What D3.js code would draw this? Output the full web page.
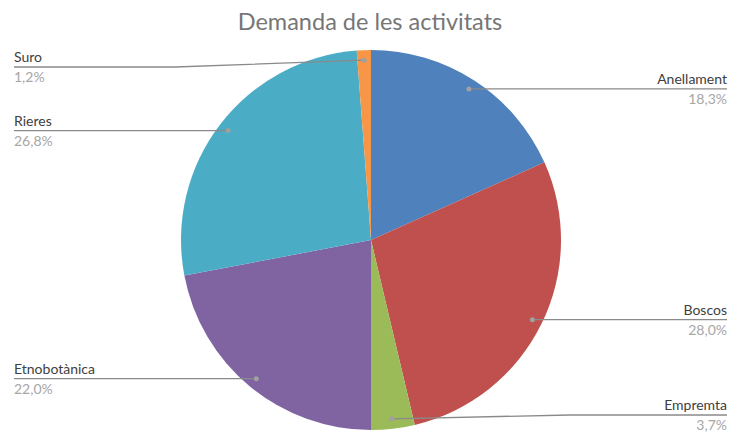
<!DOCTYPE html>
<html>
<head>
<meta charset="utf-8">
<script src="https://cdn.jsdelivr.net/npm/d3@7"></script>
<style>
  body { margin: 0; background: #fff; }
  text { font-family: Lato, "Open Sans", sans-serif; }
</style>
</head>
<body>
<div id="chart"></div>
<script>
const categories = ["Anellament", "Boscos", "Empremta", "Etnobotànica", "Rieres", "Suro"];
const values = [18.3, 28.0, 3.7, 22.0, 26.8, 1.2];
const colors = ["#4F81BD", "#C0504D", "#9BBB59", "#8064A2", "#4BACC6", "#F79646"];

const svgWidth = 730;
const svgHeight = 432;
const cx = 371, cy = 240, radius = 190;

// where the label line sits when it can't just follow the dot
const labelLineY = { "Suro": 67, "Empremta": 415 };
const bendX = { "Suro": 175, "Empremta": 570 };

const svg = d3.select("#chart").append("svg")
  .attr("width", svgWidth)
  .attr("height", svgHeight);

svg.append("text")
  .attr("x", 370)
  .attr("y", 30)
  .attr("text-anchor", "middle")
  .attr("fill", "#767676")
  .attr("font-size", 23.5)
  .text("Demanda de les activitats");

const data = categories.map((c, i) => ({ name: c, value: values[i], color: colors[i] }));

const pie = d3.pie().sort(null).value(d => d.value);
const arcs = pie(data);

const arc = d3.arc().innerRadius(0).outerRadius(radius);
const dotArc = d3.arc().innerRadius(180).outerRadius(180);

const g = svg.append("g").attr("transform", `translate(${cx},${cy})`);

g.selectAll("path")
  .data(arcs)
  .enter()
  .append("path")
  .attr("d", arc)
  .attr("fill", d => d.data.color);

const fmt = v => d3.format(".1f")(v).replace(".", ",") + "%";

arcs.forEach(d => {
  const [dx, dy] = dotArc.centroid(d);
  const px = cx + dx, py = cy + dy;
  const right = px > cx;
  const endX = right ? 727 : 14;
  const ly = labelLineY[d.data.name] !== undefined ? labelLineY[d.data.name] : py;
  const pts = [[px, py]];
  if (bendX[d.data.name] !== undefined) pts.push([bendX[d.data.name], ly]);
  pts.push([endX, ly]);

  svg.append("path")
    .attr("d", d3.line()(pts))
    .attr("fill", "none")
    .attr("stroke", "#8a8a8a")
    .attr("stroke-width", 1.3);

  svg.append("circle")
    .attr("cx", px)
    .attr("cy", py)
    .attr("r", 2.5)
    .attr("fill", "#a0a0a0");

  svg.append("text")
    .attr("x", endX)
    .attr("y", ly - 5)
    .attr("text-anchor", right ? "end" : "start")
    .attr("fill", "#404040")
    .attr("font-size", 14)
    .text(d.data.name);

  svg.append("text")
    .attr("x", endX)
    .attr("y", ly + 15)
    .attr("text-anchor", right ? "end" : "start")
    .attr("fill", "#a6a6a6")
    .attr("font-size", 14)
    .text(fmt(d.data.value));
});
</script>
</body>
</html>
